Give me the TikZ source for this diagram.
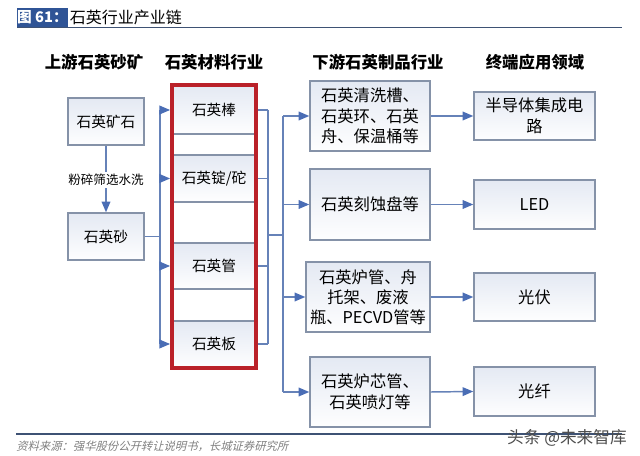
\documentclass[tikz,border=0pt]{standalone}
\usepackage{fontspec}
\setmainfont{Noto Sans CJK SC}
\newfontfamily\cjkit[FakeSlant=0.25]{Noto Sans CJK SC}
\usetikzlibrary{arrows.meta,fit}
\definecolor{boxgray}{HTML}{8592A8}
\definecolor{linkblue}{HTML}{6682B8}
\definecolor{tipblue}{HTML}{4A6DB5}
\definecolor{redframe}{HTML}{BA2129}
\definecolor{titleblue}{HTML}{2F5496}
\definecolor{rulegray}{HTML}{3E5274}
\definecolor{boxfill}{HTML}{E4E9F3}
\begin{document}
\begin{tikzpicture}[x=0.75pt,y=-0.75pt,
  box/.style={draw=boxgray, line width=1.1pt, top color=boxfill, bottom color=white!96!boxfill,
    inner sep=0pt, align=center, font=\fontsize{11}{13}\selectfont},
  dbox/.style={box, font=\fontsize{12.2}{15.5}\selectfont},
  head/.style={font=\bfseries\fontsize{12.3}{14}\selectfont, inner sep=0pt},
  wire/.style={draw=linkblue, line width=1.1pt},
  arr/.style={wire, -{Triangle[length=8pt,width=6.5pt,color=tipblue]}},
]
\useasboundingbox (0,0) rectangle (640,456);

% title
\node[fill=titleblue, text=white, font=\bfseries\fontsize{11}{13}\selectfont,
      minimum width=51*0.75pt, minimum height=19*0.75pt, inner sep=0pt] (fig) at (42.5,17.5) {图 61：};
\node[anchor=west, inner sep=1pt, font=\fontsize{12}{14}\selectfont] (title) at (fig.east) {石英行业产业链};
\draw[rulegray, line width=1pt] (17,27.5) -- (622,27.5);

% column headers
\node[head] (h1) at (94,62) {上游石英砂矿};
\node[head] (h2) at (214,62) {石英材料行业};
\node[head] (h3) at (378,62) {下游石英制品行业};
\node[head] (h4) at (535,62) {终端应用领域};

% upstream
\node[box, minimum width=76*0.75pt, minimum height=47*0.75pt] (ore) at (106,121.5) {石英矿石};
\node[box, minimum width=76*0.75pt, minimum height=47*0.75pt] (sand) at (106,236.5) {石英砂};
\draw[arr] (ore.south) -- (sand.north);
\node[fill=white, inner sep=1.5pt, font=\fontsize{9.4}{11}\selectfont] (wash) at (106,180) {粉碎筛选水洗};

% materials
\node[box, minimum width=82*0.75pt, minimum height=48*0.75pt] (rod) at (214,110) {石英棒};
\node[box, minimum width=82*0.75pt, minimum height=47*0.75pt] (ingot) at (214,178.5) {石英锭/砣};
\node[box, minimum width=82*0.75pt, minimum height=46*0.75pt] (tube) at (214,266) {石英管};
\node[box, minimum width=82*0.75pt, minimum height=46*0.75pt] (plate) at (214,344) {石英板};
\draw[boxgray, line width=1.1pt] (rod.south west) -- (ingot.north west);
\draw[boxgray, line width=1.1pt] (rod.south east) -- (ingot.north east);
\draw[boxgray, line width=1.1pt] (ingot.south west) -- (tube.north west);
\draw[boxgray, line width=1.1pt] (ingot.south east) -- (tube.north east);
\draw[boxgray, line width=1.1pt] (tube.south west) -- (plate.north west);
\draw[boxgray, line width=1.1pt] (tube.south east) -- (plate.north east);
\node[draw=redframe, line width=2.7pt, fit=(rod)(plate), inner sep=0pt] (frame) {};

% left bus
\coordinate (bl) at (160,0);
\draw[wire] (sand.east) -- (bl |- sand.east);
\draw[wire] (bl |- rod.west) -- (bl |- plate.west);
\foreach \n in {rod,ingot,tube,plate}
  \draw[arr, shorten >=1.6pt] (bl |- \n.west) -- (\n.west);

% right bus
\coordinate (br) at (268,0);
\foreach \n in {rod,ingot,tube,plate}
  \draw[wire] ([xshift=1.6pt]\n.east) -- (br |- \n.east);
\draw[wire] (br |- rod.east) -- (br |- plate.east);
\coordinate (bm) at (268,235);
\coordinate (b2) at (283,0);
\draw[wire] (bm) -- (b2 |- bm);

% downstream
\node[dbox, minimum width=120*0.75pt, minimum height=70*0.75pt] (d1) at (370,116) {石英清洗槽、\\石英环、石英\\舟、保温桶等};
\node[dbox, minimum width=120*0.75pt, minimum height=71*0.75pt] (d2) at (370,204.5) {石英刻蚀盘等};
\node[dbox, minimum width=124*0.75pt, minimum height=70*0.75pt, font=\fontsize{12.2}{15}\selectfont] (d3) at (368,297) {石英炉管、舟\\托架、废液\\瓶、PECVD管等};
\node[dbox, minimum width=120*0.75pt, minimum height=70*0.75pt] (d4) at (370,392) {石英炉芯管、\\石英喷灯等};
\draw[wire] (b2 |- d1.west) -- (b2 |- d4.west);
\foreach \n in {d1,d2,d3,d4}
  \draw[arr] (b2 |- \n.west) -- (\n.west);

% end uses
\node[dbox, minimum width=121*0.75pt, minimum height=48*0.75pt] (e1) at (534.5,116) {半导体集成电\\路};
\node[dbox, minimum width=121*0.75pt, minimum height=49*0.75pt] (e2) at (534.5,204.5) {LED};
\node[dbox, minimum width=121*0.75pt, minimum height=48*0.75pt] (e3) at (534.5,297) {光伏};
\node[dbox, minimum width=121*0.75pt, minimum height=49*0.75pt] (e4) at (534.5,391.5) {光纤};
\draw[arr] (d1.east) -- (e1.west);
\draw[arr] (d2.east) -- (e2.west);
\draw[arr] (d3.east) -- (e3.west);
\draw[arr] (d4.east) -- (e4.west);

% footer
\draw[rulegray, line width=1pt] (16,434) -- (622,434);
\node[anchor=west, inner sep=0pt, text=black!50, font=\cjkit\fontsize{8.5}{10}\selectfont] (src) at (16,446) {资料来源：强华股份公开转让说明书，长城证券研究所};
\node[anchor=east, inner sep=0pt, text=black!70, font=\fontsize{12.5}{14}\selectfont] (wm) at (627,438) {头条 @未来智库};
\end{tikzpicture}
\end{document}
